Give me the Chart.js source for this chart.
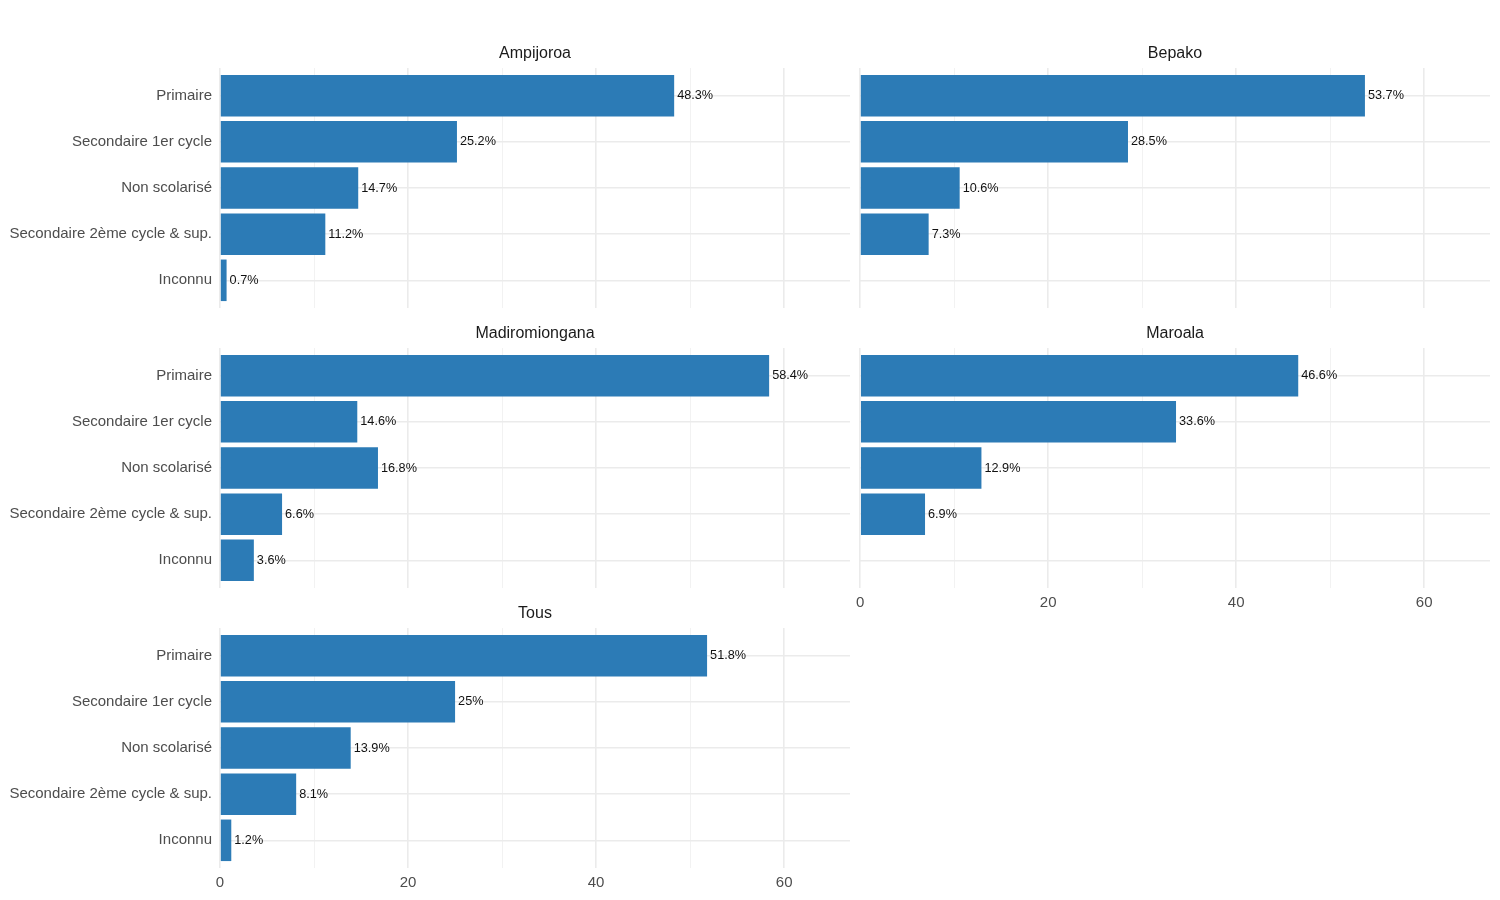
<!DOCTYPE html>
<html>
<head>
<meta charset="utf-8">
<script src="https://cdn.jsdelivr.net/npm/chart.js@4.4.1/dist/chart.umd.min.js"></script>
<style>
  html, body { margin: 0; padding: 0; background: #fff; }
  #wrap { position: relative; width: 1500px; height: 900px; }
  #wrap canvas { position: absolute; }
</style>
</head>
<body>
<div id="wrap"></div>
<script>
const categories = ['Primaire', 'Secondaire 1er cycle', 'Non scolarisé', 'Secondaire 2ème cycle & sup.', 'Inconnu']
const sites = ['Ampijoroa', 'Bepako', 'Madiromiongana', 'Maroala', 'Tous']
const ampijoroa = [48.3, 25.2, 14.7, 11.2, 0.7]
const bepako = [53.7, 28.5, 10.6, 7.3, null]
const madiromiongana = [58.4, 14.6, 16.8, 6.6, 3.6]
const maroala = [46.6, 33.6, 12.9, 6.9, null]
const tous = [51.8, 25, 13.9, 8.1, 1.2]
const xTicks = [0, 20, 40, 60]

const seriesBySite = [ampijoroa, bepako, madiromiongana, maroala, tous]
const barColor = '#2C7BB6'
const axisText = '#4D4D4D'
const fontFamily = '"Liberation Sans", Arial, sans-serif'

// facet_wrap layout: 2 columns, x labels only at the bottom of each column
const panels = [
    { col: 0, row: 0, showY: true, showX: false },
    { col: 1, row: 0, showY: false, showX: false },
    { col: 0, row: 1, showY: true, showX: false },
    { col: 1, row: 1, showY: false, showX: true },
    { col: 0, row: 2, showY: true, showX: true }
]

const isWhole = (v, step) => Math.abs(v / step - Math.round(v / step)) < 1e-6
const tickValue = (c) => (c && c.tick ? c.tick.value : NaN)

const stripTitlePlugin = (title) => ({
    id: 'stripTitle',
    afterDraw: (chart) => {
        const { ctx, chartArea } = chart
        ctx.save()
        ctx.font = `16px ${fontFamily}`
        ctx.fillStyle = '#1A1A1A'
        ctx.textAlign = 'center'
        ctx.textBaseline = 'middle'
        ctx.fillText(title, (chartArea.left + chartArea.right) / 2, chartArea.top - 14)
        ctx.restore()
    }
})

const barLabelsPlugin = {
    id: 'barLabels',
    afterDatasetsDraw: (chart) => {
        const { ctx } = chart
        const meta = chart.getDatasetMeta(0)
        const dataset = chart.data.datasets[0]
        ctx.save()
        ctx.font = `12.7px ${fontFamily}`
        ctx.fillStyle = '#111'
        ctx.textAlign = 'left'
        ctx.textBaseline = 'middle'
        meta.data.forEach((bar, i) => {
            ctx.fillText(`${dataset.data[i].x}%`, bar.x + 3, bar.y)
        })
        ctx.restore()
    }
}

const wrap = document.getElementById('wrap')

sites.forEach((site, idx) => {
    const p = panels[idx]
    const canvas = document.createElement('canvas')
    const left = p.col === 0 ? 0 : 850
    const width = p.col === 0 ? 855 : 645
    canvas.style.left = left + 'px'
    canvas.style.top = (40 + p.row * 280) + 'px'
    canvas.style.width = width + 'px'
    canvas.style.height = '298px'
    canvas.width = width
    canvas.height = 298
    wrap.appendChild(canvas)

    const values = seriesBySite[idx]
    const points = values
        .map((v, i) => ({ x: v, y: i }))
        .filter(d => d.x !== null)

    new Chart(canvas.getContext('2d'), {
        type: 'bar',
        data: {
            datasets: [{
                label: site,
                data: points,
                backgroundColor: barColor,
                borderWidth: 0,
                barPercentage: 0.9,
                categoryPercentage: 1
            }]
        },
        options: {
            indexAxis: 'y',
            responsive: false,
            animation: false,
            layout: { padding: { left: 0, right: 5, top: 28, bottom: 0 } },
            plugins: {
                legend: { display: false },
                title: { display: false },
                tooltip: { enabled: false }
            },
            scales: {
                x: {
                    type: 'linear',
                    min: 0,
                    max: 67,
                    ticks: {
                        stepSize: 10,
                        includeBounds: false,
                        display: p.showX,
                        padding: 6,
                        color: axisText,
                        font: { size: 15, family: fontFamily },
                        maxRotation: 0,
                        callback: (value) => xTicks.includes(value) ? String(value) : ''
                    },
                    grid: {
                        drawTicks: false,
                        color: (c) => {
                            const v = tickValue(c)
                            if (!isWhole(v, 10)) return 'rgba(0,0,0,0)'
                            return isWhole(v, 20) ? '#EBEBEB' : '#F2F2F2'
                        },
                        lineWidth: (c) => isWhole(tickValue(c), 20) ? 1.6 : 1
                    },
                    border: { display: false },
                    afterFit: (scale) => { scale.height = 30 }
                },
                y: {
                    type: 'linear',
                    min: -0.6,
                    max: 4.6,
                    reverse: true,
                    offset: false,
                    ticks: {
                        stepSize: 1,
                        includeBounds: false,
                        display: p.showY,
                        padding: 8,
                        color: axisText,
                        font: { size: 15, family: fontFamily },
                        callback: (value) => isWhole(value, 1) ? categories[Math.round(value)] : ''
                    },
                    grid: {
                        offset: false,
                        drawTicks: false,
                        color: (c) => isWhole(tickValue(c), 1) ? '#EBEBEB' : 'rgba(0,0,0,0)',
                        lineWidth: 1.6
                    },
                    border: { display: false },
                    afterFit: (scale) => { scale.width = p.showY ? 220 : 10 }
                }
            }
        },
        plugins: [stripTitlePlugin(site), barLabelsPlugin]
    })
})
</script>
</body>
</html>
